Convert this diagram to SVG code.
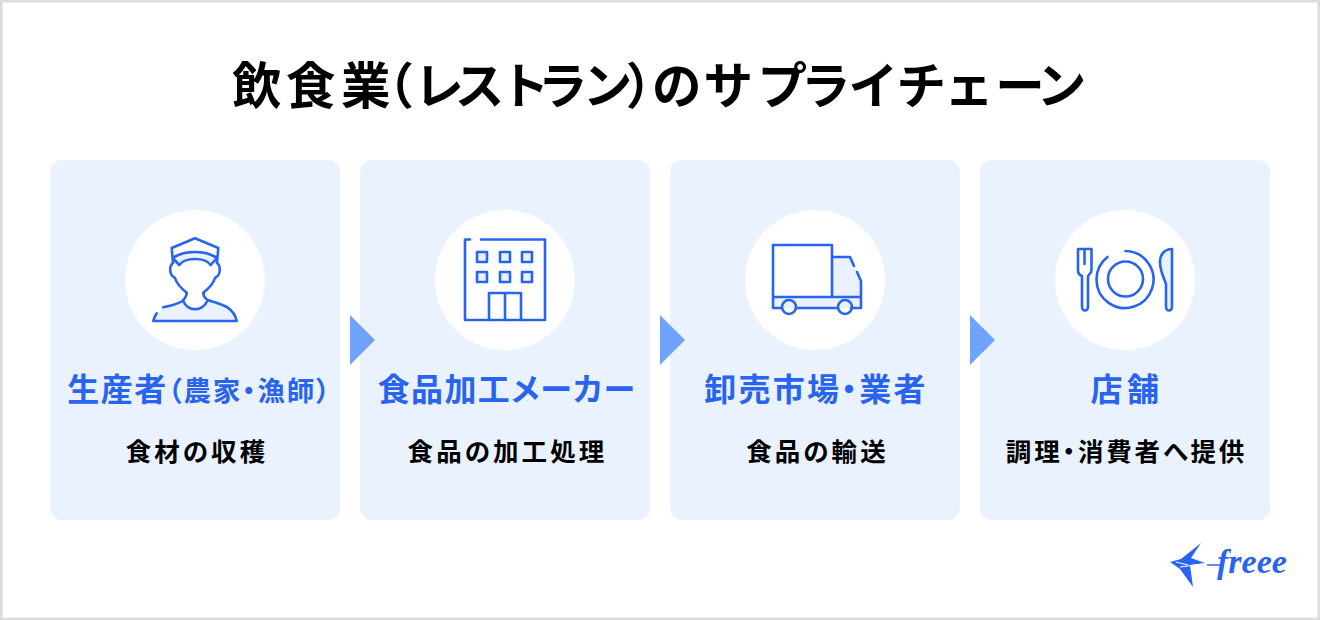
<svg xmlns="http://www.w3.org/2000/svg" width="1320" height="620" viewBox="0 0 1320 620">
<style>
text{font-family:"Noto Sans CJK JP","Noto Sans",sans-serif;font-feature-settings:"palt"}
.card{fill:#e9f2fe}
.disc{fill:#fff}
.t{font-size:49.500px;font-weight:700;fill:#000}
.h{font-size:32px;font-weight:700;fill:#2864f0;text-anchor:middle;letter-spacing:1.5px}
.hs{font-size:27.500px;letter-spacing:1.800px}
.s{font-size:25.500px;font-weight:700;fill:#000;text-anchor:middle;letter-spacing:3.100px}
.ic{fill:none;stroke:#2864f0;stroke-width:2.600;stroke-linecap:round;stroke-linejoin:round}
.tint{fill:#e9f2fe;stroke:none}
.arr{fill:#6ea2fb}
</style>
<rect x="1" y="1" width="1318" height="618" fill="#fff" stroke="#dcdcdc" stroke-width="3"/>
<text class="t" y="103.500" x="232 286 341 387 416 457 505 541 585 628 652 704 759 804 850 898 947 996 1039">飲食業（レストラン）のサプライチェーン</text>

<g id="node-producer">
<rect class="card" x="50" y="160" width="290" height="360" rx="12"/>
<circle class="disc" cx="195" cy="280" r="70"/>
<path class="tint" d="M154 321C155 314 160 310 165 307C174 305 180 304 184 301C188 309 202 309 207 301C216 305 231 306 236.500 321Z"/>
<path class="tint" d="M173 258C185 250 205 250 217 258L211 265C205 257 185 257 179 265Z"/>
<path class="ic" d="M173 263L171.700 248L195 238.300L218.300 248L217 263M172.700 258C184 250 206 250 217 258L210.700 265C205 257 185 257 179.300 265L172.700 258"/>
<path class="ic" d="M173 263C169 266 169 275 175 278C177 285 182 289 186.700 292.700M217 263C221 266 221 275 215 278C213 285 208 289 203.300 292.700"/>
<path class="ic" d="M163.300 307.300C172 305 180 304 183.300 300C186 297 186.700 295 186.700 292.700M203.300 292.700C203.300 296 205 298 206.700 299.300C216 304 233 304 236.700 321H153.300C154 318 155 316 156.700 313.300M183.300 301C188 312 202 312 207.300 301"/>
<text class="h" x="199.500" y="401">生産者<tspan class="hs">（農家・漁師）</tspan></text>
<text class="s" x="197" y="461">食材の収穫</text>
</g>

<g id="node-maker">
<rect class="card" x="360" y="160" width="290" height="360" rx="12"/>
<circle class="disc" cx="505" cy="280" r="70"/>
<path class="ic" d="M470 239.500H465V320H545V239.500H481"/>
<path class="ic" d="M489 320V293H521V320M505 293V320"/>
<g class="ic" style="fill:#e9f2fe"><rect x="477" y="252" width="10" height="10"/><rect x="500" y="252" width="10" height="10"/><rect x="522" y="252" width="10" height="10"/><rect x="477" y="272" width="10" height="10"/><rect x="500" y="272" width="10" height="10"/><rect x="522" y="272" width="10" height="10"/></g>
<text class="h" x="507" y="401" style="letter-spacing:1.300px">食品加工メーカー</text>
<text class="s" x="507.500" y="461">食品の加工処理</text>
</g>

<g id="node-wholesaler">
<rect class="card" x="670" y="160" width="290" height="360" rx="12"/>
<circle class="disc" cx="815" cy="280" r="70"/>
<path class="tint" d="M832 257H850L861 281V297H772V308H861V297H832Z"/>
<path class="ic" d="M832 297V245H773V308H782M796 308H837M851 308H861V281L857 272M854 266L850 257H832M773 297H861"/>
<circle class="ic" cx="789" cy="307" r="7"/>
<circle class="ic" cx="845" cy="307" r="7"/>
<text class="h" x="816" y="401" style="letter-spacing:2.200px">卸売市場・業者</text>
<text class="s" x="817.500" y="461">食品の輸送</text>
</g>

<g id="node-store">
<rect class="card" x="980" y="160" width="290" height="360" rx="12"/>
<circle class="disc" cx="1125" cy="280" r="70"/>
<path class="ic" d="M1078 249H1091.500V270C1091.500 273 1089 275 1088 276V306C1088 312 1082 312 1082 306V276C1079 275 1078 273 1078 270ZM1084.500 249V264"/>
<path class="tint" d="M1172 249C1165 249 1161 254 1161 262C1161 272 1165 280 1167 284V306C1167 311 1172 311 1172 306Z"/>
<path class="ic" d="M1172 249C1165 249 1160 254 1160 262C1160 272 1165 280 1166 284V306C1166 312 1172 312 1172 306Z"/>
<circle class="ic" cx="1125.500" cy="279" r="17.500"/>
<path class="ic" d="M1125.500 251A28.500 28.500 0 1 1 1107.500 257"/>
<text class="h" x="1127" y="401" style="letter-spacing:4.600px">店舗</text>
<text class="s" x="1126.500" y="461" style="letter-spacing:2.800px">調理・消費者へ提供</text>
</g>

<g id="connectors">
<path class="arr" d="M350 315L375 340L350 365Z"/>
<path class="arr" d="M660 315L685 340L660 365Z"/>
<path class="arr" d="M970 315L995 340L970 365Z"/>
</g>

<g id="logo">
<path fill="#2864f0" d="M1170 562L1181 559L1201 543L1191 558L1205 563L1190 565L1193 587L1180 569Z"/>
<path stroke="#fff" stroke-width="1" fill="none" d="M1176 562L1188 565M1180 567L1203 564"/>
<path stroke="#2864f0" stroke-width="1.500" fill="none" d="M1207 565H1222"/>
<text x="1217" y="573" font-size="34" font-style="italic" font-weight="700" style="font-family:'Liberation Serif',serif" fill="#2864f0">freee</text>
</g>
</svg>
